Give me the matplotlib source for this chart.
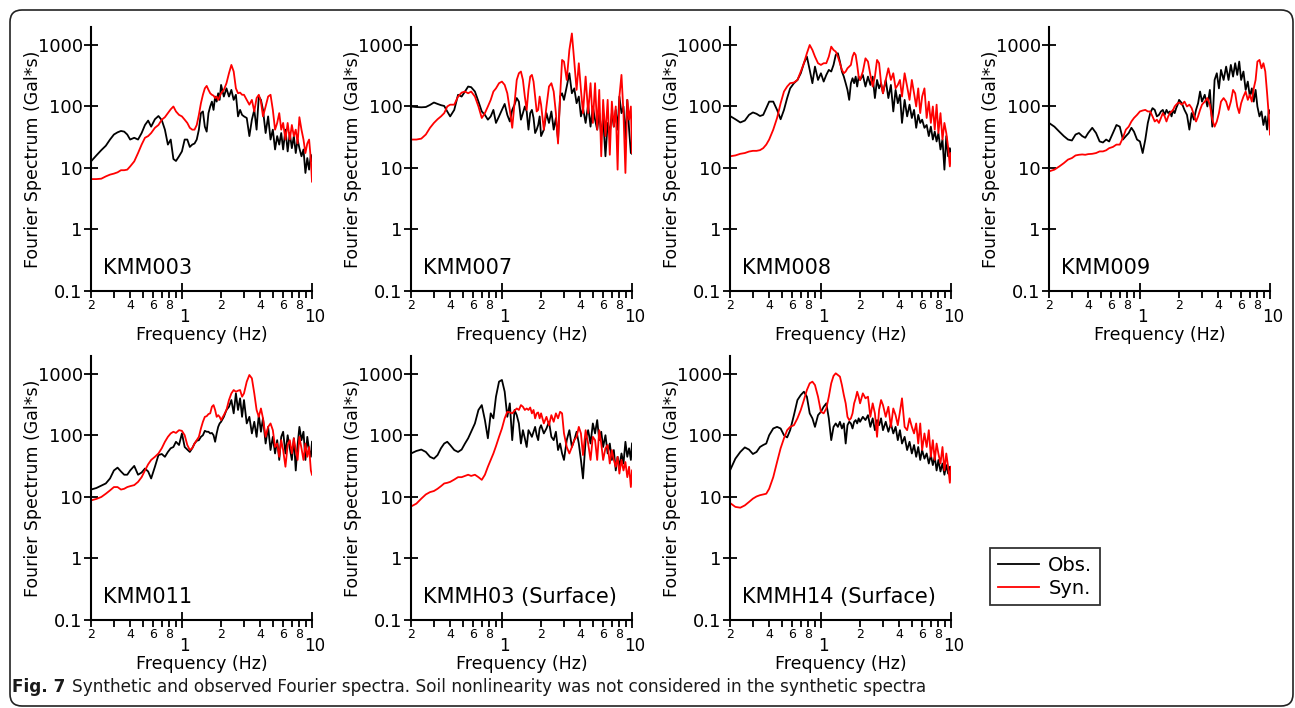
import matplotlib
matplotlib.use('Agg')
import matplotlib.pyplot as plt
from matplotlib.patches import FancyBboxPatch
from matplotlib.ticker import FixedLocator, FixedFormatter
from matplotlib.transforms import ScaledTranslation

# ---------------- data ----------------
FREQ = [0.20, 0.22, 0.24, 0.26, 0.28, 0.30, 0.32, 0.34, 0.36, 0.38, 0.40,
        0.43, 0.46, 0.49, 0.52, 0.55, 0.58, 0.62, 0.66, 0.70, 0.74, 0.78, 0.82, 0.86, 0.90, 0.95, 1.00,
        1.05, 1.10, 1.15, 1.20, 1.25, 1.30, 1.35, 1.40, 1.45, 1.50, 1.55, 1.60, 1.65, 1.70, 1.75, 1.80, 1.85, 1.90, 1.95, 2.00,
        2.1, 2.2, 2.3, 2.4, 2.5, 2.6, 2.7, 2.8, 2.9, 3.0,
        3.15, 3.3, 3.45, 3.6, 3.75, 3.9, 4.05, 4.2,
        4.4, 4.6, 4.8, 5.0, 5.2, 5.4, 5.6, 5.8, 6.0,
        6.25, 6.5, 6.75, 7.0, 7.25, 7.5, 7.75, 8.0,
        8.3, 8.6, 8.9, 9.2, 9.5, 9.8, 10.0]

STATIONS = ['KMM003', 'KMM007', 'KMM008', 'KMM009', 'KMM011',
            'KMMH03 (Surface)', 'KMMH14 (Surface)']

OBS_KMM003 = [12.8, 16, 19.5, 23, 29, 35, 38, 40, 39, 35, 29,
              31, 29, 37, 50, 59, 47, 62, 70, 60, 42, 24, 29, 14, 13, 15.5, 18.6,
              29, 29, 22, 24, 25, 29, 42, 78, 83, 47, 39, 78, 100, 120, 88, 145, 120, 164, 128, 224,
              145, 197, 145, 186, 128, 155, 69, 88, 73, 69,
              65, 33, 61, 88, 42, 145, 128, 88,
              37, 69, 29, 42, 20, 33, 24, 37, 20,
              42, 18.6, 37, 21, 33, 17.5, 29, 21,
              15.5, 20, 8.3, 14.5, 9.4, 16.4, 12.8]
SYN_KMM003 = [6.6, 6.6, 6.7, 7.3, 7.8, 8.1, 8.5, 9.2, 9.2, 9.4, 10.6,
              12.8, 17.5, 24, 31, 33, 37, 45, 50, 61, 67, 78, 90, 100, 83, 73, 69,
              61, 54, 45, 42, 42, 50, 73, 113, 155, 197, 216, 186, 164, 155, 150, 137, 145, 128, 145, 164,
              186, 239, 347, 474, 370, 197, 164, 168, 155, 155,
              128, 107, 128, 83, 137, 155, 120, 69,
              100, 145, 155, 88, 42, 54, 78, 42, 54,
              29, 54, 29, 50, 33, 42, 25, 67,
              42, 29, 17.5, 25, 29, 13.7, 6.0]

OBS_KMM007 = [100, 98, 97, 98, 106, 116, 110, 105, 102, 83, 69,
              88, 155, 145, 175, 211, 206, 175, 120, 83, 73, 61, 69, 88, 54, 69, 88,
              110, 73, 57, 88, 107, 137, 120, 61, 78, 100, 83, 42, 78, 88, 65, 37, 42, 50, 69, 33,
              42, 78, 54, 83, 42, 65, 29, 145, 164, 128,
              211, 347, 164, 197, 113, 145, 69, 94,
              54, 107, 47, 100, 61, 42, 78, 33, 65,
              15.5, 54, 37, 78, 47, 88, 42, 145,
              78, 100, 29, 128, 42, 17.5, 17]
SYN_KMM007 = [29, 29, 30, 35, 45, 54, 62, 69, 78, 100, 107,
              107, 145, 168, 175, 164, 175, 145, 100, 65, 78, 100, 128, 175, 197, 239, 254,
              224, 164, 88, 45, 113, 270, 347, 370, 270, 145, 88, 186, 306, 326, 254, 145, 83, 88, 145, 107,
              42, 100, 211, 239, 175, 78, 25, 145, 571, 537,
              270, 830, 1540, 537, 186, 505, 186, 78,
              306, 78, 239, 54, 239, 42, 186, 15.5, 128,
              33, 128, 16.4, 120, 47, 100, 9.4, 145,
              326, 78, 8.3, 128, 61, 100, 17.5]

OBS_KMM008 = [70, 62, 55, 59, 73, 80, 76, 70, 73, 94, 120,
              120, 88, 62, 88, 137, 197, 239, 270, 347, 505, 647, 393, 239, 445, 270, 347,
              254, 326, 393, 370, 474, 688, 733, 537, 370, 306, 239, 186, 128, 239, 288, 239, 306, 211, 306, 270,
              326, 211, 306, 224, 306, 137, 270, 197, 239, 164,
              270, 137, 224, 83, 186, 113, 155, 54,
              128, 69, 107, 65, 88, 45, 73, 54, 61,
              45, 50, 33, 47, 29, 39, 27, 37,
              20, 29, 9.4, 33, 15.5, 21, 17.5]
SYN_KMM008 = [15.5, 16, 17, 17.5, 18.5, 19, 19, 19.5, 21, 24, 29,
              42, 65, 113, 175, 211, 239, 245, 270, 370, 505, 733, 1000, 830, 647, 505, 474,
              505, 505, 647, 940, 830, 780, 647, 505, 393, 347, 370, 418, 445, 474, 647, 750, 688, 474, 306, 270,
              370, 607, 537, 326, 211, 306, 571, 505, 239, 164,
              270, 418, 270, 347, 197, 224, 270, 145,
              347, 211, 128, 270, 164, 100, 197, 78, 145,
              197, 65, 120, 54, 100, 42, 107, 37,
              78, 29, 54, 37, 22, 10.6, 17.5]

OBS_KMM009 = [54, 47, 39, 33, 29, 28, 35, 37, 33, 31, 37,
              45, 37, 27, 26, 29, 27, 37, 50, 47, 29, 33, 37, 45, 39, 29, 27,
              17.5, 29, 54, 78, 94, 88, 69, 73, 83, 88, 73, 88, 78, 83, 69, 88, 78, 94, 107, 128,
              113, 88, 73, 42, 78, 61, 88, 113, 175, 120,
              155, 100, 186, 47, 270, 347, 197, 393,
              270, 445, 270, 474, 306, 505, 326, 537, 270,
              370, 186, 254, 145, 197, 120, 186, 100,
              69, 83, 50, 69, 42, 88, 78]
SYN_KMM009 = [8.8, 9.4, 10.6, 12, 13.7, 14.5, 16, 16.4, 16.6, 16.4, 16.8,
              17, 17.5, 18.6, 18.6, 19.4, 21, 22, 24, 24, 31, 42, 47, 57, 65, 73, 83,
              86, 88, 83, 83, 69, 57, 61, 54, 65, 78, 69, 57, 69, 78, 83, 88, 100, 107, 113, 116,
              107, 120, 100, 107, 94, 73, 57, 69, 88, 107,
              120, 137, 107, 61, 47, 57, 78, 120,
              137, 120, 88, 120, 186, 164, 100, 78, 113,
              145, 175, 128, 155, 120, 197, 270, 537,
              571, 418, 505, 370, 164, 69, 35]

OBS_KMM011 = [13.2, 14, 15.3, 16.6, 20, 27, 30, 26, 23, 23, 27,
              32, 23, 25, 29, 26, 20, 31, 48, 50, 45, 54, 62, 65, 79, 70, 108,
              65, 59, 54, 62, 74, 82, 84, 95, 101, 119, 115, 115, 108, 110, 101, 79, 108, 138, 157, 167,
              201, 260, 293, 377, 229, 484, 260, 402, 201, 377,
              157, 201, 108, 167, 95, 214, 115, 190,
              74, 138, 58, 95, 51, 84, 40, 95, 115,
              51, 101, 62, 40, 90, 27, 70, 138,
              84, 115, 40, 95, 58, 45, 79]
SYN_KMM011 = [8.8, 9.3, 10, 11.3, 12.8, 14.5, 14.5, 13.2, 13.6, 14.5, 15,
              15.6, 17.6, 21, 27, 34, 40, 45, 51, 62, 79, 95, 108, 115, 110, 122, 119,
              101, 70, 58, 62, 74, 84, 95, 130, 167, 201, 206, 223, 229, 293, 312, 260, 201, 214, 201, 178,
              214, 260, 377, 484, 548, 515, 535, 548, 427, 484,
              750, 963, 850, 484, 260, 201, 275, 190,
              95, 138, 157, 122, 65, 74, 45, 84, 58,
              31, 70, 84, 51, 90, 58, 40, 95,
              62, 40, 74, 45, 65, 27, 23]

OBS_KMMH03 = [51, 56, 59, 54, 45, 42, 48, 62, 74, 79, 70,
              58, 54, 59, 74, 90, 115, 157, 260, 312, 178, 90, 229, 190, 427, 750, 800,
              515, 201, 333, 84, 260, 214, 157, 74, 122, 90, 65, 122, 108, 95, 115, 138, 101, 84, 130, 147,
              108, 130, 167, 95, 84, 115, 58, 74, 51, 40,
              84, 122, 65, 84, 115, 74, 40, 20,
              84, 122, 74, 157, 108, 178, 84, 115, 65,
              101, 51, 74, 40, 58, 27, 45, 31,
              51, 35, 79, 45, 62, 40, 74]
SYN_KMMH03 = [7.0, 7.8, 9.4, 11, 12, 12.5, 13.6, 15, 16.6, 17, 17.6,
              19.2, 21, 21, 22, 23, 22, 23, 21, 19, 23, 31, 40, 51, 67, 95, 130,
              190, 243, 237, 229, 252, 275, 260, 312, 293, 260, 275, 260, 285, 229, 260, 190, 229, 237, 190, 229,
              157, 201, 147, 214, 167, 229, 190, 243, 229, 108,
              65, 51, 65, 84, 95, 138, 108, 48,
              122, 74, 40, 95, 84, 40, 122, 74, 40,
              62, 70, 35, 58, 40, 31, 45, 24,
              40, 27, 37, 21, 31, 14.5, 27]

OBS_KMMH14 = [27, 42, 54, 64, 59, 50, 54, 65, 70, 74, 101,
              130, 138, 130, 101, 93, 122, 214, 377, 455, 515, 427, 229, 190, 138, 214, 243,
              293, 333, 190, 84, 138, 157, 138, 167, 130, 157, 74, 147, 167, 157, 130, 167, 178, 157, 190, 167,
              201, 178, 214, 138, 190, 122, 178, 147, 190, 122,
              167, 115, 157, 108, 138, 84, 122, 74,
              95, 58, 79, 51, 70, 45, 65, 40, 58,
              42, 51, 35, 48, 33, 45, 27, 40,
              26, 35, 23, 33, 24, 31, 27]
SYN_KMMH14 = [8.0, 6.9, 6.7, 7.3, 8.3, 9.4, 10.2, 10.7, 11, 11.3, 13.6,
              21, 37, 62, 90, 122, 138, 147, 190, 260, 377, 548, 705, 750, 660, 427, 243,
              229, 275, 427, 705, 930, 1025, 963, 905, 660, 455, 333, 201, 178, 190, 229, 333, 402, 515, 427, 333,
              484, 402, 427, 201, 333, 229, 95, 260, 377, 312,
              201, 293, 138, 275, 214, 147, 243, 402,
              138, 122, 190, 138, 108, 157, 74, 157, 58,
              108, 65, 122, 45, 84, 40, 74, 51,
              35, 65, 27, 51, 31, 17, 31]

OBS = [OBS_KMM003, OBS_KMM007, OBS_KMM008, OBS_KMM009, OBS_KMM011, OBS_KMMH03, OBS_KMMH14]
SYN = [SYN_KMM003, SYN_KMM007, SYN_KMM008, SYN_KMM009, SYN_KMM011, SYN_KMMH03, SYN_KMMH14]

Y_TICKS = [0.1, 1, 10, 100, 1000]
Y_TICKLABELS = ['0.1', '1', '10', '100', '1000']
X_MAJOR = [1, 10]
X_MAJOR_LABELS = ['1', '10']
X_MINOR = [0.2, 0.3, 0.4, 0.5, 0.6, 0.7, 0.8, 0.9, 2, 3, 4, 5, 6, 7, 8, 9]
X_MINOR_LABELS = ['2', '', '4', '', '6', '', '8', '', '2', '', '4', '', '6', '', '8', '']

CAPTION_BOLD = 'Fig. 7'
CAPTION = 'Synthetic and observed Fourier spectra. Soil nonlinearity was not considered in the synthetic spectra'

# ---------------- figure ----------------
W, H = 1295, 708
fig = plt.figure(figsize=(W / 100, H / 100), dpi=100)

LEFTS = [91, 411, 730, 1049]
TOPS = [27, 356]
AW, AH = 221, 264

handles = None
for i, (name, obs, syn) in enumerate(zip(STATIONS, OBS, SYN)):
    r, c = divmod(i, 4)
    ax = fig.add_axes([LEFTS[c] / W, 1 - (TOPS[r] + AH) / H, AW / W, AH / H])
    l1, = ax.plot(FREQ, obs, color='black', lw=1.3, label='Obs.')
    l2, = ax.plot(FREQ, syn, color='#ff0000', lw=1.3, label='Syn.')
    handles = [l1, l2]
    ax.set_xscale('log')
    ax.set_yscale('log')
    ax.set_xlim(0.2, 10)
    ax.set_ylim(0.1, 1960)
    for s in ['top', 'right']:
        ax.spines[s].set_visible(False)
    for s in ['left', 'bottom']:
        ax.spines[s].set_linewidth(1.5)
    ax.yaxis.set_major_locator(FixedLocator(Y_TICKS))
    ax.yaxis.set_major_formatter(FixedFormatter(Y_TICKLABELS))
    ax.yaxis.set_minor_locator(FixedLocator([]))
    ax.xaxis.set_major_locator(FixedLocator(X_MAJOR))
    ax.xaxis.set_major_formatter(FixedFormatter(X_MAJOR_LABELS))
    ax.xaxis.set_minor_locator(FixedLocator(X_MINOR))
    ax.xaxis.set_minor_formatter(FixedFormatter(X_MINOR_LABELS))
    ax.tick_params(axis='y', which='major', direction='inout', length=10, width=1.3,
                   labelsize=13, pad=1)
    ax.tick_params(axis='x', which='major', direction='inout', length=12, width=1.3,
                   labelsize=12, pad=6.5)
    ax.tick_params(axis='x', which='minor', direction='out', length=5, width=1.3,
                   labelsize=9, pad=1)
    shift = ScaledTranslation(2.2 / 100, 0, fig.dpi_scale_trans)
    for lab in ax.xaxis.get_majorticklabels():
        lab.set_transform(lab.get_transform() + shift)
    ax.text(0.5, -0.165, 'Frequency (Hz)', transform=ax.transAxes,
            ha='center', va='center', fontsize=12.5)
    ax.text(-0.262, 0.5, 'Fourier Spectrum (Gal*s)', transform=ax.transAxes,
            ha='center', va='center', rotation=90, fontsize=12.5)
    ax.text(0.054, 0.087, name, transform=ax.transAxes,
            ha='left', va='center', fontsize=15)

leg = fig.legend(handles, ['Obs.', 'Syn.'], loc='upper left',
                 bbox_to_anchor=(990 / W, 1 - 548 / H), borderaxespad=0,
                 fontsize=14, frameon=True, fancybox=False, edgecolor='black',
                 handlelength=2.1, handletextpad=0.5, labelspacing=0.2, borderpad=0.4)
leg.get_frame().set_linewidth(1.3)

# outer frame
frame = FancyBboxPatch((10, 2), 1283, 696, boxstyle='round,pad=0,rounding_size=12',
                       transform=None, facecolor='none', edgecolor='#222222', lw=1.2)
fig.add_artist(frame)

# caption
t1 = fig.text(12 / W, 1 - 692 / H, CAPTION_BOLD, fontsize=12.2, weight='bold',
              family='DejaVu Sans', va='baseline', ha='left', color='#1a1a1a')
fig.canvas.draw()
bb = t1.get_window_extent()
fig.text((bb.x1 + 7) / W, 1 - 692 / H, CAPTION, fontsize=12.2,
         family='DejaVu Sans', va='baseline', ha='left', color='#1a1a1a')

fig.savefig('out.png', dpi=100)
